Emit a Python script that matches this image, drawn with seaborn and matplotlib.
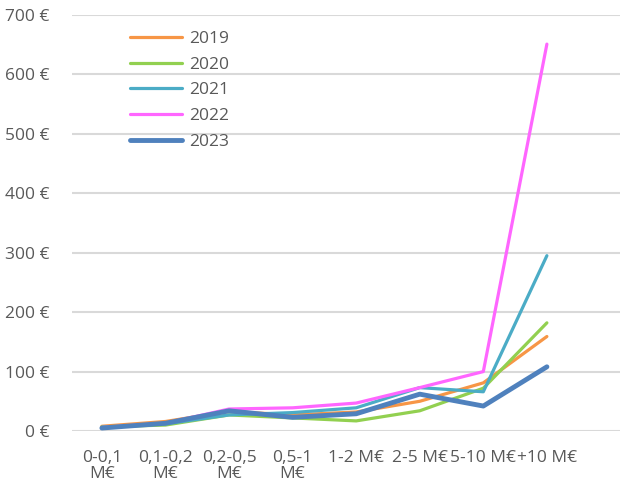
import matplotlib
matplotlib.use("Agg")
import matplotlib.pyplot as plt
import seaborn as sns
import pandas as pd

categories = ["0-0,1\nM€", "0,1-0,2\nM€", "0,2-0,5\nM€", "0,5-1\nM€",
              "1-2 M€", "2-5 M€", "5-10 M€", "+10 M€"]
years = ["2019", "2020", "2021", "2022", "2023"]
v2019 = [8, 16, 33, 27, 32, 50, 81, 159]
v2020 = [7, 10, 27, 22, 17, 34, 72, 182]
v2021 = [6, 12, 27, 31, 39, 73, 66, 295]
v2022 = [6, 13, 37, 39, 47, 73, 100, 651]
v2023 = [5, 13, 34, 23, 29, 62, 42, 108]
series = [v2019, v2020, v2021, v2022, v2023]
colors = ["#F79646", "#92D050", "#4BACC6", "#FF66FF", "#4F81BD"]
widths = [2.3, 2.3, 2.3, 2.3, 3.5]
yticks = [0, 100, 200, 300, 400, 500, 600, 700]

sns.set_theme(style="white")
plt.rcParams['font.family'] = ['Open Sans', 'DejaVu Sans']

rows = []
for y, vals in zip(years, series):
    for i, (c, v) in enumerate(zip(categories, vals)):
        rows.append({"pos": i, "cat": c, "year": y, "value": v})
df = pd.DataFrame(rows)

fig = plt.figure(figsize=(6.25, 4.84), dpi=100)
ax = fig.add_axes([72/625, 1 - 431/484, (620 - 72)/625, (431 - 15)/484])

for y, col, lw in zip(years, colors, widths):
    sub = df[df["year"] == y]
    sns.lineplot(data=sub, x="pos", y="value", color=col, linewidth=lw,
                 ax=ax, label=y, solid_capstyle="round", solid_joinstyle="round")

ax.set_ylim(0, 700)
ax.set_xlim(-0.47, 8.15)
ax.set_yticks(yticks)
ax.set_yticklabels([f"{t} €" for t in yticks])
ax.set_xticks(range(len(categories)))
ax.set_xticklabels(categories)
ax.set_xlabel("")
ax.set_ylabel("")
for t in yticks:
    ax.axhline(t, color="#D9D9D9", linewidth=1.5, zorder=0)
for s in ax.spines.values():
    s.set_visible(False)
ax.tick_params(axis="both", length=0, labelsize=12.5, colors="#595959")
ax.tick_params(axis="x", pad=14)
ax.tick_params(axis="y", pad=16)
for lbl in ax.get_xticklabels():
    lbl.set_linespacing(1.0)

leg = ax.legend(loc="upper left", bbox_to_anchor=(51/548, 1 - 9/416), frameon=False,
                fontsize=12.5, handlelength=3.0, labelspacing=0.55, handletextpad=0.4,
                borderaxespad=0)
for t in leg.get_texts():
    t.set_color("#595959")

fig.savefig("out.png", dpi=100)
